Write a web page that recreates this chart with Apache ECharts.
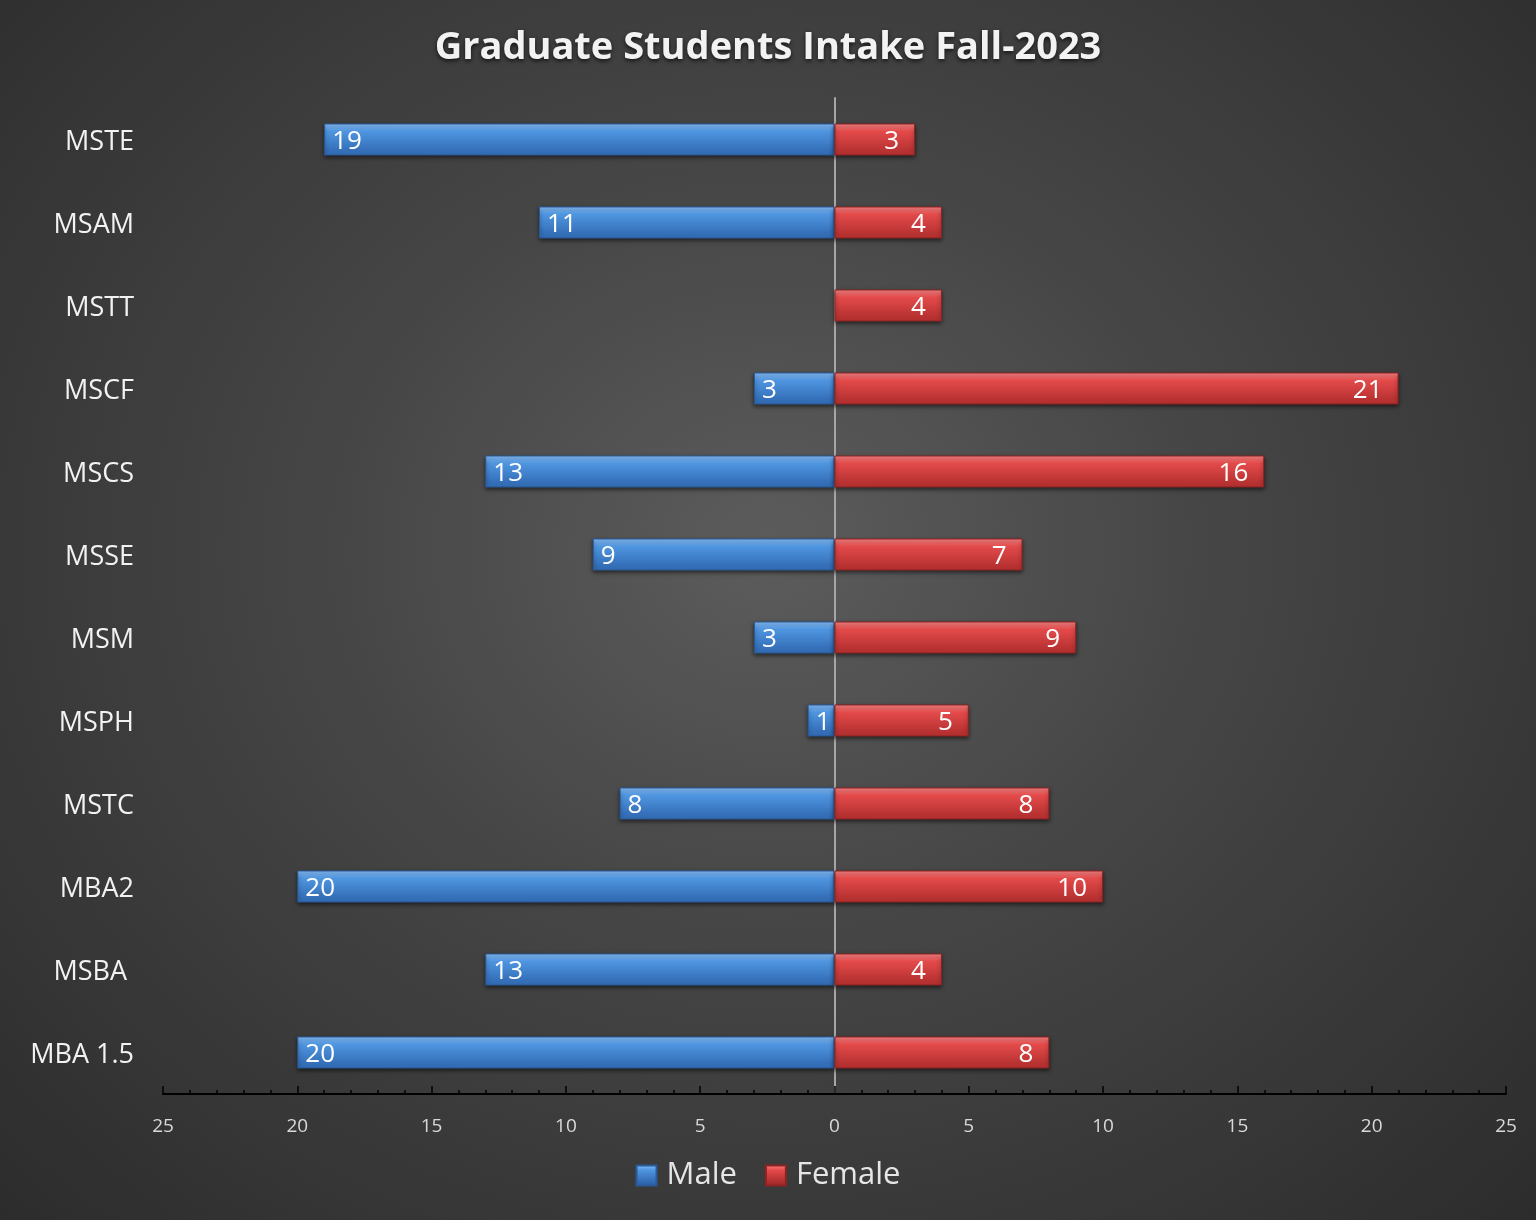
<!DOCTYPE html>
<html lang="en">
<head>
    <meta charset="UTF-8">
    <title>Graduate Students Intake Fall-2023</title>
    <script src="https://cdn.jsdelivr.net/npm/echarts@6/dist/echarts.min.js"></script>
    <style>
        html, body { margin: 0; padding: 0; }
        body { background: #2e2e2e; }
        #main {
            width: 1536px; height: 1220px;
            background: radial-gradient(ellipse at 50% 45%, #5c5c5c 0%, #464646 40%, #2c2c2c 100%);
        }
    </style>
</head>
<body>

<div id="main"></div>

<script type="text/javascript">
    // programmes, top to bottom as in the picture
    var programs = ['MSTE', 'MSAM', 'MSTT', 'MSCF', 'MSCS', 'MSSE', 'MSM', 'MSPH', 'MSTC', 'MBA2', 'MSBA ', 'MBA 1.5'];
    var male = [19, 11, 0, 3, 13, 9, 3, 1, 8, 20, 13, 20];
    var female = [3, 4, 4, 21, 16, 7, 9, 5, 8, 10, 4, 8];

    var font = '"Open Sans", "Noto Sans", sans-serif';

    var myChart = echarts.init(document.getElementById('main'), null, {renderer: 'canvas'});

    // category axis goes bottom-up, so reverse for drawing
    var cats = programs.slice().reverse();
    var maleData = male.slice().reverse().map(function (v) { return v === 0 ? null : -v; });
    var femaleData = female.slice().reverse();

    function grad(top, mid, bottom) {
        return new echarts.graphic.LinearGradient(0, 0, 0, 1, [
            {offset: 0, color: top},
            {offset: 0.25, color: mid},
            {offset: 0.85, color: bottom},
            {offset: 1, color: bottom}
        ]);
    }

    var option = {
        backgroundColor: 'transparent',
        title: {
            text: 'Graduate Students Intake Fall-2023',
            left: 'center',
            top: 24,
            textStyle: {
                color: '#f2f2f2',
                fontFamily: font,
                fontSize: 38,
                fontWeight: 'bold',
                textShadowColor: 'rgba(0,0,0,0.7)',
                textShadowBlur: 4,
                textShadowOffsetY: 2
            }
        },
        legend: {
            bottom: 24,
            left: 'center',
            itemWidth: 20,
            itemHeight: 20,
            itemGap: 28,
            icon: 'rect',
            textStyle: {color: '#e6e6e6', fontFamily: font, fontSize: 31, padding: [0, 0, 0, 5]},
            data: [
                {name: 'Male', itemStyle: {color: grad('#8cc4ff', '#4f95e0', '#2f66ad')}},
                {name: 'Female', itemStyle: {color: grad('#ff8a8a', '#e44a4a', '#a82b2b')}}
            ]
        },
        grid: {
            left: 163,
            right: 30,
            top: 98,
            bottom: 126,
            containLabel: false
        },
        xAxis: {
            type: 'value',
            min: -25,
            max: 25,
            interval: 5,
            axisLine: {show: true, lineStyle: {color: '#000', width: 2}},
            axisTick: {show: true, inside: true, length: 8, lineStyle: {color: '#000', width: 1.5}},
            minorTick: {show: true, splitNumber: 5, length: 4, lineStyle: {color: '#000', width: 1.5}},
            splitLine: {show: false},
            axisLabel: {
                color: '#d9d9d9',
                fontFamily: font,
                fontSize: 19,
                margin: 23,
                formatter: function (v) { return Math.abs(v); }
            }
        },
        yAxis: {
            type: 'category',
            data: cats,
            axisLine: {show: true, onZero: true, lineStyle: {color: '#a6a6a6', width: 2}},
            axisTick: {show: false},
            axisLabel: {
                margin: 29,
                interval: 0,
                formatter: function (v) { return '{c|' + v + '}'; },
                rich: {
                    c: {
                        color: '#f2f2f2',
                        fontFamily: font,
                        fontSize: 27,
                        padding: [6, 0, 0, 0]
                    }
                }
            },
            position: 'left'
        },
        series: [
            {
                name: 'Male',
                type: 'bar',
                stack: 'all',
                data: maleData,
                barWidth: 32,
                itemStyle: {
                    color: grad('#8cc4ff', '#4f95e0', '#346fb8'),
                    borderColor: '#2a5a98',
                    borderWidth: 1,
                    shadowColor: 'rgba(0,0,0,0.55)',
                    shadowBlur: 4,
                    shadowOffsetY: 2
                },
                label: {
                    show: true,
                    position: 'insideLeft',
                    distance: 8,
                    offset: [0, 2],
                    color: '#ffffff',
                    fontFamily: font,
                    fontSize: 26,
                    formatter: function (p) { return Math.abs(p.value); }
                }
            },
            {
                name: 'Female',
                type: 'bar',
                stack: 'all',
                data: femaleData,
                barWidth: 32,
                itemStyle: {
                    color: grad('#ff8a8a', '#e44a4a', '#b83232'),
                    borderColor: '#8e2222',
                    borderWidth: 1,
                    shadowColor: 'rgba(0,0,0,0.55)',
                    shadowBlur: 4,
                    shadowOffsetY: 2
                },
                label: {
                    show: true,
                    position: 'insideRight',
                    distance: 16,
                    offset: [0, 2],
                    color: '#ffffff',
                    fontFamily: font,
                    fontSize: 26
                }
            }
        ]
    };

    myChart.setOption(option);
</script>

</body>
</html>
